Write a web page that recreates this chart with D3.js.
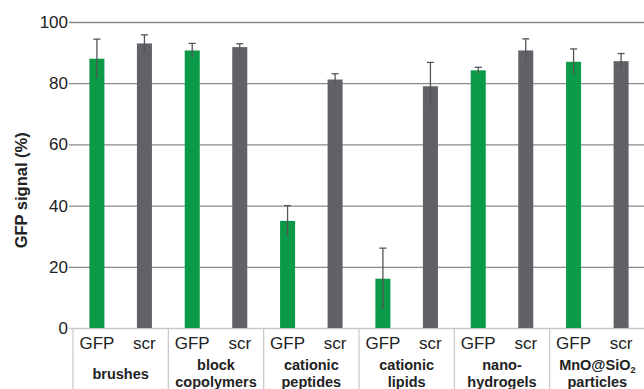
<!DOCTYPE html>
<html lang="en">
<head>
<meta charset="UTF-8">
<title>GFP signal</title>
<script src="https://d3js.org/d3.v7.min.js"></script>
<style>
body { margin: 0; background: #fff; }
text { font-family: 'Liberation Sans', Arial, sans-serif; fill: #222; }
</style>
</head>
<body>
<svg class="container"></svg>
<script>
// data
const groups = ['brushes', 'block copolymers', 'cationic peptides', 'cationic lipids', 'nano- hydrogels', 'MnO@SiO2 particles'];
const series = ['GFP', 'scr'];
const gfpValues = [88.0, 90.7, 35.0, 16.1, 84.2, 87.0];
const gfpErrors = [6.4, 2.3, 5.0, 10.0, 1.0, 4.2];
const scrValues = [93.0, 91.8, 81.2, 79.0, 90.7, 87.2];
const scrErrors = [2.8, 1.1, 1.9, 7.8, 3.8, 2.5];
const yTicks = [0, 20, 40, 60, 80, 100];

const colors = { GFP: '#0b9a47', scr: '#606268' };

const width = 644, height = 389;
const margin = { left: 73, right: -1, top: 22, bottom: 61 };

let svg = d3.select('svg.container')
    .attr('width', width)
    .attr('height', height);

let x0 = d3.scaleBand()
    .domain(groups)
    .range([margin.left, width - margin.right]);

let x1 = d3.scaleBand()
    .domain(series)
    .range([0, x0.bandwidth()])
    .paddingInner(0.684)
    .paddingOuter(0.345);

let y = d3.scaleLinear()
    .domain([0, 100])
    .range([height - margin.bottom, margin.top]);

// grid lines + y ticks
let yAxis = d3.axisLeft(y)
    .tickValues(yTicks)
    .tickSize(-(width - margin.left))
    .tickPadding(5);

let gy = svg.append('g')
    .attr('transform', `translate(${margin.left},0)`)
    .call(yAxis);
gy.select('.domain').remove();
gy.selectAll('.tick line')
    .attr('stroke', '#8a8a8a')
    .attr('stroke-width', 1.3)
    .attr('x1', -4);
gy.selectAll('.tick text')
    .style('font-size', '17px')
    .attr('fill', '#2a2a2a');
gy.selectAll('.tick').filter(d => d === 0).select('line').attr('stroke', '#c8c8c8');

// y label
svg.append('text')
    .attr('transform', `translate(27,${y(45)}) rotate(-90)`)
    .attr('text-anchor', 'middle')
    .style('font-size', '16.5px')
    .style('font-weight', 'bold')
    .text('GFP signal (%)');

// rows of bars
let rows = [];
groups.forEach((g, i) => {
    rows.push({ group: g, key: 'GFP', value: gfpValues[i], err: gfpErrors[i] });
    rows.push({ group: g, key: 'scr', value: scrValues[i], err: scrErrors[i] });
});

svg.append('g').selectAll('rect')
    .data(rows)
    .join('rect')
    .attr('x', d => x0(d.group) + x1(d.key))
    .attr('width', x1.bandwidth())
    .attr('y', d => y(d.value))
    .attr('height', d => y(0) - y(d.value))
    .attr('fill', d => colors[d.key]);

// error bars
let cx = d => x0(d.group) + x1(d.key) + x1.bandwidth() / 2;
let eb = svg.append('g')
    .attr('stroke', '#555')
    .attr('stroke-width', 1.3);
eb.selectAll('line.v')
    .data(rows)
    .join('line')
    .attr('class', 'v')
    .attr('x1', cx).attr('x2', cx)
    .attr('y1', d => y(d.value - d.err))
    .attr('y2', d => y(d.value + d.err));
eb.selectAll('line.cap')
    .data(rows)
    .join('line')
    .attr('class', 'cap')
    .attr('x1', d => cx(d) - 3.5).attr('x2', d => cx(d) + 3.5)
    .attr('y1', d => y(d.value + d.err))
    .attr('y2', d => y(d.value + d.err));

// category box under the chart
let box = svg.append('g')
    .attr('stroke', '#c8c8c8')
    .attr('stroke-width', 1.2);
groups.forEach(g => {
    box.append('line')
        .attr('x1', x0(g)).attr('x2', x0(g))
        .attr('y1', y(0)).attr('y2', height);
});

// series labels
svg.append('g').selectAll('text')
    .data(rows)
    .join('text')
    .attr('x', cx)
    .attr('y', y(0) + 21)
    .attr('text-anchor', 'middle')
    .style('font-size', '17px')
    .text(d => d.key);

// group labels
let gl = svg.append('g').selectAll('text')
    .data(groups)
    .join('text')
    .attr('x', d => x0(d) + x0.bandwidth() / 2)
    .attr('text-anchor', 'middle')
    .style('font-size', '14.5px')
    .style('font-weight', 'bold');

gl.each(function(d) {
    let t = d3.select(this);
    let parts = d.split(' ');
    let cxg = x0(d) + x0.bandwidth() / 2;
    if (parts.length === 1) {
        t.attr('y', y(0) + 51).text(d);
        return;
    }
    parts.forEach((p, k) => {
        let ts = t.append('tspan')
            .attr('x', cxg)
            .attr('y', y(0) + 42 + k * 16.5);
        if (p === 'MnO@SiO2') {
            ts.text('MnO@SiO');
            ts.append('tspan')
                .style('font-size', '9px')
                .attr('dy', 3)
                .text('2');
        } else {
            ts.text(p);
        }
    });
});
</script>
</body>
</html>
